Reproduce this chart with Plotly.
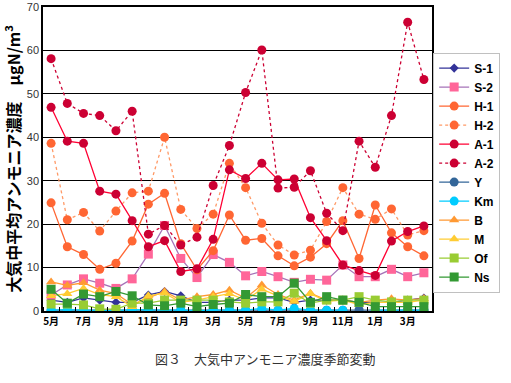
import plotly.graph_objects as go

months = ["5月", "6月", "7月", "8月", "9月", "10月", "11月", "12月", "1月", "2月", "3月", "4月",
          "5月", "6月", "7月", "8月", "9月", "10月", "11月", "12月", "1月", "2月", "3月", "4月"]
tick_labels = ["5月", "7月", "9月", "11月", "1月", "3月", "5月", "7月", "9月", "11月", "1月", "3月"]

S1 = [2.5, 2.0, 3.0, 2.5, 2.0, 2.0, 3.7, 4.5, 3.5, 2.0, 2.0, 2.5, 2.5, 3.0, 3.0, 2.0, 2.5, 2.5, 2.5, 2.0, 2.0, 2.0, 2.5, 3.0]
S2 = [3.7, 6.0, 7.4, 6.4, 5.2, 7.4, 13.1, 19.7, 12.1, 7.7, 13.0, 11.2, 8.1, 9.1, 7.9, 6.6, 7.3, 7.1, 10.6, 7.9, 7.9, 9.6, 7.9, 8.8]
H1 = [24.9, 14.8, 13.0, 9.6, 11.0, 16.1, 24.6, 27.1, 15.5, 9.5, 13.9, 22.1, 16.3, 16.7, 12.7, 10.4, 12.4, 15.5, 20.8, 12.1, 24.4, 18.0, 14.8, 12.7]
H2 = [38.6, 21.0, 22.7, 18.4, 23.0, 27.2, 27.6, 40.0, 23.4, 19.0, 22.3, 34.0, 28.4, 20.2, 15.2, 12.9, 14.0, 20.6, 28.4, 22.3, 21.1, 23.5, 17.5, 18.5]
A1 = [46.9, 39.1, 38.6, 27.6, 26.9, 20.8, 14.8, 16.2, 9.1, 9.7, 16.5, 32.5, 30.5, 34.0, 30.2, 30.4, 21.5, 16.2, 10.6, 9.3, 8.2, 16.1, 18.3, 19.6]
A2 = [58.1, 47.8, 45.5, 45.0, 41.5, 46.0, 17.7, 19.7, 15.2, 17.0, 28.9, 38.1, 50.3, 60.1, 28.3, 28.5, 32.3, 22.5, 18.5, 39.1, 33.1, 45.0, 66.5, 53.3]
Y = [0.2, 0.2, 0.2, 0.2, 0.2, 0.2, 0.2, 0.2, 0.2, 0.2, 0.2, 0.2, 0.2, 0.2, 0.2, 0.2, 0.2, 0.2, 0.2, 0.3, 0.2, 0.2, 0.2, 0.2]
Km = [0.2, 0.3, 0.2, 0.2, 0.1, 0.3, 0.2, 0.2, 0.2, 0.1, 0.2, 0.2, 0.2, 0.6, 0.2, 0.6, 0.2, 0.2, 0.2, None, 0.2, 0.2, 0.2, 0.2]
B = [6.7, 5.9, 6.5, 4.8, 4.0, 1.5, 3.0, 4.5, 2.5, 3.3, 3.8, 4.8, 3.0, 6.0, 3.8, 2.5, 4.1, 2.5, 2.5, 2.0, 2.5, 2.8, 2.5, 2.9]
M = [3.5, 4.0, 5.2, 3.8, 3.3, 1.0, 3.5, 4.1, 2.0, 2.5, 3.3, 4.0, 2.5, 5.0, 3.5, 2.2, 4.0, 2.2, 2.5, 1.5, 2.0, 2.0, 2.0, 2.5]
Of = [1.6, 1.6, 1.4, 0.5, 0.4, 1.8, 1.8, 2.5, 2.5, 2.5, 2.5, 2.1, 1.8, 2.1, 2.1, 4.1, 1.8, 2.5, 2.5, 3.3, 2.5, 2.1, 2.5, 2.5]
Ns = [5.0, 1.8, 3.9, 3.3, 4.5, 3.5, 1.4, 1.2, 1.8, 1.0, 1.5, 1.8, 3.8, 3.3, 3.3, 6.4, 2.0, 3.3, 2.5, 2.0, 1.0, 1.0, 1.0, 1.0]

x = list(range(len(months)))

series = [
    ("S-1", S1, "#333399", "#333399", "solid", "diamond", 7),
    ("S-2", S2, "#FF6699", "#A673B8", "solid", "square", 9),
    ("H-1", H1, "#FF6633", "#FF6633", "solid", "circle", 9),
    ("H-2", H2, "#FF6633", "#FF9966", "dot", "circle", 9),
    ("A-1", A1, "#CC0033", "#FF0033", "solid", "circle", 9),
    ("A-2", A2, "#CC0033", "#CC0033", "dot", "circle", 9),
    ("Y", Y, "#336699", "#336699", "solid", "circle", 9),
    ("Km", Km, "#00CCFF", "#00CCFF", "solid", "circle", 9),
    ("B", B, "#FF9933", "#FF9933", "solid", "triangle-up", 9),
    ("M", M, "#FFCC33", "#FFCC33", "solid", "triangle-up", 9),
    ("Of", Of, "#99CC33", "#99CC33", "solid", "square", 9),
    ("Ns", Ns, "#339933", "#339933", "solid", "square", 9),
]

fig = go.Figure()
for name, vals, mcol, lcol, dash, sym, size in series:
    fig.add_trace(go.Scatter(
        x=x, y=vals, name=name, mode="lines+markers",
        line=dict(color=lcol, width=1.3, dash=dash),
        marker=dict(color=mcol, symbol=sym, size=size, line=dict(width=0)),
        connectgaps=False,
    ))

fig.update_layout(
    width=511, height=383,
    margin=dict(l=43, r=79, t=7, b=72, autoexpand=False),
    paper_bgcolor="white", plot_bgcolor="white",
    font=dict(family="Arial, Liberation Sans, sans-serif", color="#000000"),
    legend=dict(
        x=1.003, y=0.85, xanchor="left", yanchor="top",
        bordercolor="#C0C0C0", borderwidth=1,
        font=dict(size=12, family="Liberation Sans, Arial, sans-serif", color="#000000", weight="bold"),
        tracegroupgap=0, itemwidth=30,
    ),
    showlegend=True,
)

fig.update_xaxes(
    range=[-0.5, 23.5], automargin=False,
    tickvals=list(range(0, 24, 2)), ticktext=tick_labels,
    ticks="", showgrid=False,
    showline=True, linecolor="black", linewidth=1.5, mirror=True,
    tickfont=dict(size=10, color="#000000", family="Noto Sans CJK JP, sans-serif", weight="bold"),
    minor=dict(tick0=-0.5, dtick=1, ticks="inside", ticklen=4, tickcolor="black", showgrid=False),
    zeroline=False,
)
fig.update_yaxes(
    range=[0, 70], dtick=10, automargin=False,
    showgrid=True, gridcolor="black", gridwidth=1.2,
    showline=True, linecolor="black", linewidth=1.5, mirror=True,
    ticks="", tickfont=dict(size=11, color="#333333"),
    zeroline=False,
    title=dict(text="<b>大気中平均アンモニア濃度　μgN/m<sup>3</sup></b>",
               font=dict(size=16, family="Noto Sans CJK JP, sans-serif", color="#000000"),
               standoff=2),
)

fig.add_annotation(
    text="図３　大気中アンモニア濃度季節変動",
    xref="paper", yref="paper", x=0.57, y=-0.12, yanchor="top", xanchor="center",
    showarrow=False,
    font=dict(size=13, family="Noto Sans CJK JP, sans-serif", color="#333333"),
)

fig.write_html("out.html", config={"displayModeBar": False},
               post_script="document.body.style.margin='0';")
